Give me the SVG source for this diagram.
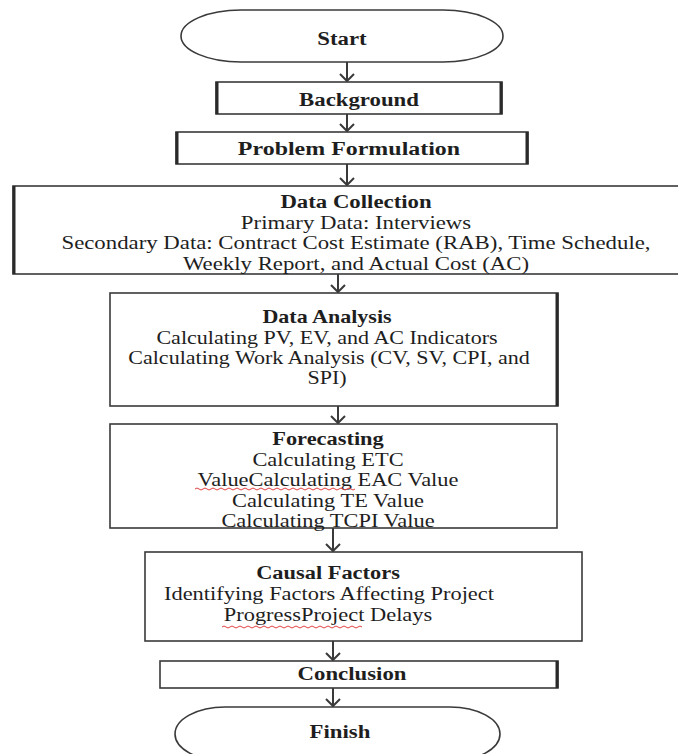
<svg xmlns="http://www.w3.org/2000/svg" width="678" height="754" viewBox="0 0 678 754">
<style>
.box{fill:#fff;stroke:#3a3a3a;stroke-width:1.6}
.thick{stroke:#2a2a2a;stroke-width:3;fill:none}
.t{font-family:"Liberation Serif","Times New Roman",serif;font-size:19px;fill:#1e1e1e;text-anchor:middle}
.b{font-weight:bold}
.arr{fill:none;stroke:#3a3a3a;stroke-width:2}
.sq{fill:none;stroke:#e04040;stroke-width:1}
</style>
<rect width="678" height="754" fill="#fff"/>
<g id="connectors">
<path class="arr" d="M347 62V81M340 74L347 81L354 74"/>
<path class="arr" d="M347 114V131M340 124L347 131L354 124"/>
<path class="arr" d="M347 164V185M340 178L347 185L354 178"/>
<path class="arr" d="M338 274V292M331 285L338 292L345 285"/>
<path class="arr" d="M338 406V423M331 416L338 423L345 416"/>
<path class="arr" d="M333 528V551M326 544L333 551L340 544"/>
<path class="arr" d="M333 641V660M326 653L333 660L340 653"/>
<path class="arr" d="M333 688V706M326 699L333 706L340 699"/>
</g>
<g id="start">
<rect class="box" x="181" y="10" width="322" height="52" rx="60" ry="26"/>
<text class="t b" transform="translate(342 45) scale(1.2 1)">Start</text>
</g>
<g id="background">
<rect class="box" x="216" y="82" width="286" height="32"/>
<path class="thick" d="M217 82V114M501 82V114"/>
<text class="t b" transform="translate(359 106) scale(1.2 1)">Background</text>
</g>
<g id="problem">
<rect class="box" x="176" y="132" width="352" height="32"/>
<path class="thick" d="M177 132V164M527 132V164"/>
<text class="t b" transform="translate(349 155) scale(1.26 1)">Problem Formulation</text>
</g>
<g id="data-collection">
<rect class="box" x="13" y="186" width="700" height="88"/>
<path class="thick" d="M14 186V274"/>
<text class="t b" transform="translate(356 208) scale(1.2 1)">Data Collection</text>
<text class="t" transform="translate(356 229) scale(1.2 1)">Primary Data: Interviews</text>
<text class="t" transform="translate(356 249) scale(1.2 1)">Secondary Data: Contract Cost Estimate (RAB), Time Schedule,</text>
<text class="t" transform="translate(356 270) scale(1.2 1)">Weekly Report, and Actual Cost (AC)</text>
</g>
<g id="data-analysis">
<rect class="box" x="110" y="293" width="448" height="113"/>
<path class="thick" d="M557 293V406"/>
<text class="t b" transform="translate(327 323) scale(1.16 1)">Data Analysis</text>
<text class="t" transform="translate(327 344) scale(1.16 1)">Calculating PV, EV, and AC Indicators</text>
<text class="t" transform="translate(329 364) scale(1.16 1)">Calculating Work Analysis (CV, SV, CPI, and</text>
<text class="t" transform="translate(327 384) scale(1.16 1)">SPI)</text>
</g>
<g id="forecasting">
<rect class="box" x="110" y="424" width="447" height="104"/>
<text class="t b" transform="translate(328 445) scale(1.18 1)">Forecasting</text>
<text class="t" transform="translate(328 466) scale(1.18 1)">Calculating ETC</text>
<text class="t" transform="translate(328 486) scale(1.18 1)">ValueCalculating EAC Value</text>
<text class="t" transform="translate(328 507) scale(1.18 1)">Calculating TE Value</text>
<text class="t" transform="translate(328 527) scale(1.18 1)">Calculating TCPI Value</text>
<path class="sq" d="M195 489q2-2 4 0t4 0t4 0t4 0t4 0t4 0t4 0t4 0t4 0t4 0t4 0t4 0t4 0t4 0t4 0t4 0t4 0t4 0t4 0t4 0t4 0t4 0t4 0t4 0t4 0t4 0t4 0t4 0t4 0t4 0t4 0t4 0t4 0t4 0t4 0t4 0t4 0t4 0t4 0t4 0"/>
</g>
<g id="causal-factors">
<rect class="box" x="145" y="552" width="437" height="89"/>
<text class="t b" transform="translate(328 579) scale(1.18 1)">Causal Factors</text>
<text class="t" transform="translate(329 600) scale(1.18 1)">Identifying Factors Affecting Project</text>
<text class="t" transform="translate(328 621) scale(1.18 1)">ProgressProject Delays</text>
<path class="sq" d="M222 627q2-2 4 0t4 0t4 0t4 0t4 0t4 0t4 0t4 0t4 0t4 0t4 0t4 0t4 0t4 0t4 0t4 0t4 0t4 0t4 0t4 0t4 0t4 0t4 0t4 0t4 0t4 0t4 0t4 0t4 0t4 0t4 0t4 0t4 0t4 0t4 0t4"/>
</g>
<g id="conclusion">
<rect class="box" x="160" y="661" width="398" height="27"/>
<path class="thick" d="M557 661V688"/>
<text class="t b" transform="translate(352 680) scale(1.2 1)">Conclusion</text>
</g>
<g id="finish">
<rect class="box" x="175" y="707" width="325" height="54" rx="50" ry="27"/>
<text class="t b" transform="translate(340 738) scale(1.2 1)">Finish</text>
</g>
</svg>
